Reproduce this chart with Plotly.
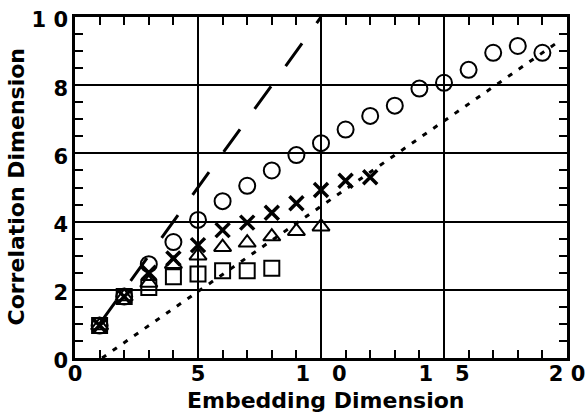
import plotly.graph_objects as go

# ---- data ----
embed_circle = list(range(1, 20))
corr_circle = [0.95, 1.8, 2.75, 3.4, 4.05, 4.6, 5.05, 5.5, 5.95, 6.3,
               6.7, 7.1, 7.4, 7.9, 8.07, 8.45, 8.95, 9.15, 8.95]

embed_x = list(range(1, 13))
corr_x = [0.95, 1.8, 2.5, 2.92, 3.31, 3.75, 3.97, 4.26, 4.54, 4.93, 5.2, 5.3]

embed_tri = list(range(1, 11))
corr_tri = [0.95, 1.8, 2.2, 2.75, 3.0, 3.25, 3.38, 3.56, 3.72, 3.85]

embed_sq = list(range(1, 9))
corr_sq = [0.95, 1.8, 2.07, 2.38, 2.46, 2.56, 2.56, 2.63]

# reference lines
dash_x = [1, 10]
dash_y = [1, 10]
dot_x = [1.1, 19.7]
dot_y = [0.0, 9.3]

x_tickvals = [0, 5, 10, 15, 20]
x_ticktext = ["0", "5", "1\u00a0\u00a0\u00a00", "1\u00a0\u00a0\u00a05", "2 0"]
y_tickvals = [0, 2, 4, 6, 8, 10]
y_ticktext = ["0", "2", "4", "6", "8", "1 0"]

x_title = "Embedding Dimension"
y_title = "Correlation Dimension"

FONT = "DejaVu Sans"

fig = go.Figure()

fig.add_trace(go.Scatter(x=dash_x, y=dash_y, mode="lines",
                         line=dict(color="black", width=3, dash="28px,25px"),
                         showlegend=False))
fig.add_trace(go.Scatter(x=dot_x, y=dot_y, mode="lines",
                         line=dict(color="black", width=3, dash="5px,8px"),
                         showlegend=False))

fig.add_trace(go.Scatter(x=embed_circle, y=corr_circle, mode="markers",
                         marker=dict(symbol="circle-open", size=16, color="black",
                                     line=dict(width=2, color="black")),
                         showlegend=False))
fig.add_trace(go.Scatter(x=embed_x, y=corr_x, mode="markers",
                         marker=dict(symbol="x-thin-open", size=14, color="black",
                                     line=dict(width=3.5, color="black")),
                         showlegend=False))
fig.add_trace(go.Scatter(x=embed_tri, y=corr_tri, mode="markers",
                         marker=dict(symbol="triangle-up-open", size=15, color="black",
                                     line=dict(width=2, color="black")),
                         showlegend=False))
fig.add_trace(go.Scatter(x=embed_sq, y=corr_sq, mode="markers",
                         marker=dict(symbol="square-open", size=15, color="black",
                                     line=dict(width=2, color="black")),
                         showlegend=False))

axis_common = dict(
    automargin=False,
    showline=True, linecolor="black", linewidth=2.5, mirror="allticks",
    showgrid=True, gridcolor="black", gridwidth=2,
    zeroline=False, ticks="inside", ticklen=8, tickwidth=2, tickcolor="black",
    ticklabeloverflow="allow",
    tickfont=dict(family=FONT, size=21, color="black", weight="bold"),
)

fig.update_xaxes(
    range=[0, 20], tickmode="array", tickvals=x_tickvals, ticktext=x_ticktext,
    minor=dict(dtick=1, ticks="inside", ticklen=8, tickwidth=2, tickcolor="black", showgrid=False),
    ticklabelstandoff=-5,
    **axis_common,
)
fig.update_yaxes(
    range=[0, 10], tickmode="array", tickvals=y_tickvals, ticktext=y_ticktext,
    minor=dict(dtick=0.5, ticks="inside", ticklen=8, tickwidth=2, tickcolor="black", showgrid=False),
    ticklabelshift=3,
    **axis_common,
)

title_font = dict(family=FONT, size=22, color="black", weight="bold")
fig.add_annotation(text=x_title, xref="paper", yref="paper", x=0.5, y=0,
                   xanchor="center", yanchor="top", xshift=4, yshift=-28,
                   showarrow=False, font=title_font)
fig.add_annotation(text=y_title, xref="paper", yref="paper", x=0, y=0.5,
                   xanchor="center", yanchor="middle", xshift=-59, textangle=-90,
                   showarrow=False, font=title_font)

fig.update_layout(
    width=587, height=412,
    margin=dict(l=75, r=20, t=17, b=54, autoexpand=False),
    paper_bgcolor="white", plot_bgcolor="white",
    showlegend=False,
)

fig.write_html("out.html", config={"displayModeBar": False},
               post_script="document.body.style.margin='0';document.body.style.overflow='hidden';")
